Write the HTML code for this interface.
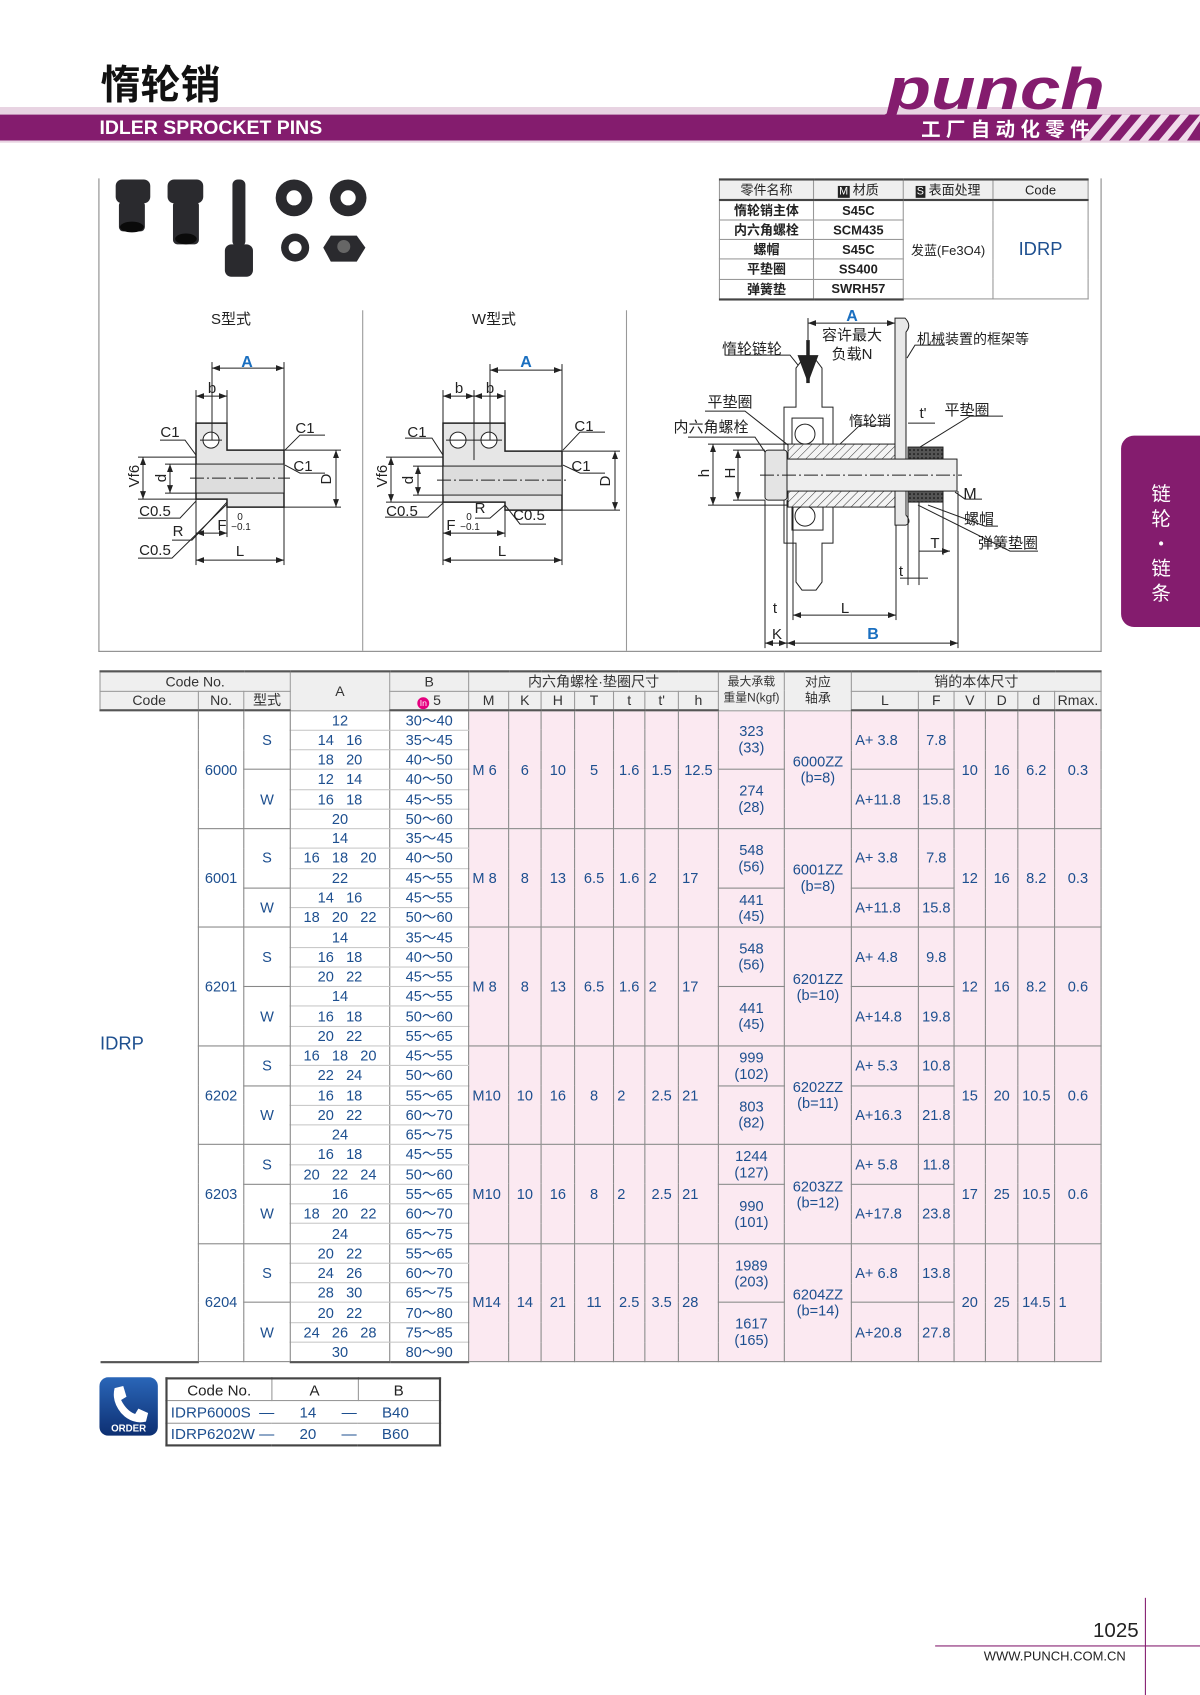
<!DOCTYPE html>
<html><head><meta charset="utf-8">
<style>
*{margin:0;padding:0;box-sizing:border-box}
html,body{width:1200px;height:1695px;background:#fff;overflow:hidden}
#w{position:absolute;left:0;top:0;width:1110px;height:1568px;transform:scale(1.081081);transform-origin:0 0;font-family:"Liberation Sans","Noto Sans CJK SC",sans-serif;color:#222}
.a{position:absolute}
table{border-collapse:collapse;table-layout:fixed}
#t{position:absolute;left:92px;top:620px;width:926px;font-family:"Liberation Sans Narrow","Liberation Sans","Noto Sans CJK SC",sans-serif;font-size:13.5px}
#t td{padding:0;text-align:center;line-height:15px;white-space:pre;overflow:hidden}
#t thead td{background:#efefef;border:1px solid #999;color:#333;height:18px;font-size:13px}
#t thead tr:first-child td{border-top:2px solid #555}
#t thead tr:last-child td{border-bottom:2px solid #555}
#t tbody tr{height:18.27px}
#t tbody td{color:#1d4f8f;border:1px solid #888;background:#fbe9f1}
#t tbody td.w{background:#fff}
#t tbody td.ab{background:#fff;border-top:1px solid #c8c8c8;border-bottom:1px solid #c8c8c8}
#t tbody td.g{border-top:1px solid #666}
#t tbody td.c{background:#fff;border-left:none;border-top:none;border-bottom:2px solid #555;text-align:left;font-size:17px;font-family:"Liberation Sans",sans-serif;padding-top:14px}
#t tbody tr:last-child td{border-bottom:2px solid #555}
#t td.l{text-align:left;padding-left:3px}
#m{position:absolute;left:665px;top:165px;width:341px;font-size:12px}
#m td{border:1px solid #999;height:18.2px;text-align:center;padding:0;font-weight:bold;color:#222}
#m tr:first-child td{border-top:2px solid #444;background:#efefef;font-weight:normal}
#m tr:nth-child(2) td{border-top:2px solid #444}
#m tr:last-child td{border-bottom:2px solid #444}
#o{position:absolute;left:153px;top:1274px;width:253px;font-size:14px}
#o td{border:1px solid #999;height:20.5px;padding:0;color:#1d4f8f}
#o{border:2px solid #444}
</style></head><body><div id="w">

<!-- header -->
<div class="a" style="left:93px;top:52px;font-size:37px;font-weight:bold;color:#111;font-family:'Noto Sans CJK SC',sans-serif;line-height:46px">惰轮销</div>
<div class="a" style="left:0;top:99px;width:1110px;height:7px;background:#e8d3e2"></div>
<div class="a" style="left:0;top:106px;width:1110px;height:24px;background:#841c6e"></div>
<div class="a" style="left:0;top:130px;width:1110px;height:2px;background:#e8d3e2"></div>
<div class="a" style="left:92px;top:107px;font-size:18px;font-weight:bold;color:#fff;line-height:22px">IDLER SPROCKET PINS</div>
<svg class="a" style="left:0;top:0" width="1110" height="140">
<g fill="#f0dceb"><polygon points="1000,130 1020,106 1028,106 1008,130"/><polygon points="1018,130 1038,106 1046,106 1026,130"/><polygon points="1036,130 1056,106 1064,106 1044,130"/><polygon points="1054,130 1074,106 1082,106 1062,130"/><polygon points="1072,130 1092,106 1100,106 1080,130"/><polygon points="1090,130 1110,106 1110,112 1098,130"/></g>
<polygon points="822,104 832,78 838,78 828,110 812,112 808,112" fill="#841c6e"/>
<text x="820" y="101" font-family="Liberation Sans" font-weight="bold" font-style="italic" font-size="54" fill="#841c6e" textLength="202" lengthAdjust="spacingAndGlyphs">punch</text>
<text x="852" y="126" font-family="Noto Sans CJK SC" font-weight="bold" font-size="18" fill="#fff" letter-spacing="5">工厂自动化零件</text>
</svg>

<!-- frame lines -->
<div class="a" style="left:91px;top:165px;width:1px;height:438px;background:#888"></div>
<div class="a" style="left:1018px;top:165px;width:1px;height:438px;background:#888"></div>
<div class="a" style="left:91px;top:602px;width:928px;height:1px;background:#888"></div>
<div class="a" style="left:335px;top:287px;width:1px;height:315px;background:#999"></div>
<div class="a" style="left:579px;top:287px;width:1px;height:315px;background:#999"></div>

<!-- photos -->
<svg class="a" style="left:0;top:160px" width="360" height="110">
<g fill="#2a2a2e">
<rect x="107" y="6" width="32" height="22" rx="6"/><rect x="110" y="26" width="24" height="28" rx="4"/>
<ellipse cx="122" cy="50" rx="11" ry="5" fill="#0a0a0a"/>
<rect x="155" y="6" width="33" height="22" rx="6"/><rect x="160" y="26" width="24" height="40" rx="4"/>
<ellipse cx="172" cy="61" rx="10" ry="5" fill="#0a0a0a"/>
<rect x="215" y="6" width="12" height="62" rx="5"/><rect x="208" y="66" width="26" height="30" rx="6"/>
<circle cx="272" cy="23" r="17"/><circle cx="322" cy="23" r="17"/>
<circle cx="273" cy="69" r="13"/><polygon points="306,58 330,58 338,69 330,82 306,82 299,69"/>
</g>
<g fill="#fff"><circle cx="272" cy="23" r="7"/><circle cx="322" cy="23" r="7"/><circle cx="273" cy="69" r="6"/></g>
<circle cx="318" cy="68" r="6" fill="#666"/>
</svg>

<!-- material table -->
<table id="m"><colgroup><col style="width:87px"><col style="width:83px"><col style="width:83px"><col style="width:88px"></colgroup>
<tr><td>零件名称</td><td><span style="background:#222;color:#fff;font-size:10px;padding:0 1px">M</span> 材质</td><td><span style="background:#222;color:#fff;font-size:10px;padding:0 1px">S</span> 表面处理</td><td>Code</td></tr>
<tr><td>惰轮销主体</td><td>S45C</td><td rowspan="5" style="font-weight:normal">发蓝(Fe3O4)</td><td rowspan="5" style="font-weight:normal;color:#1d4f8f;font-size:17px">IDRP</td></tr>
<tr><td>内六角螺栓</td><td>SCM435</td></tr>
<tr><td>螺帽</td><td>S45C</td></tr>
<tr><td>平垫圈</td><td>SS400</td></tr>
<tr><td>弹簧垫</td><td>SWRH57</td></tr>
</table>

<!-- drawings in 1200 coords -->
<svg class="a" style="left:0;top:0" width="1110" height="1568" viewBox="0 0 1200 1695" font-family="Liberation Sans, Noto Sans CJK SC, sans-serif" font-size="15" fill="#222">
<defs>
<marker id="ar" markerWidth="8" markerHeight="6" refX="8" refY="3" orient="auto-start-reverse"><path d="M0,0 L8,3 L0,6z" fill="#222"/></marker>
<pattern id="h" width="6" height="6" patternUnits="userSpaceOnUse" patternTransform="rotate(45)"><rect width="6" height="6" fill="#f4f4f4"/><line x1="0" y1="0" x2="0" y2="6" stroke="#333" stroke-width="1"/></pattern>
<pattern id="k" width="4" height="4" patternUnits="userSpaceOnUse"><rect width="4" height="4" fill="#555"/><circle cx="2" cy="2" r="1" fill="#222"/></pattern>
</defs>
<g stroke="#222" stroke-width="1" fill="none">
<path d="M196,423 H227 V450 H284 V507 H227 V499 H196 Z" fill="#e6e6e6" stroke-width="1.5"/>
<rect x="196" y="464" width="88" height="29" fill="#ddd"/>
<circle cx="211" cy="440" r="8" fill="#fff"/><line x1="200" y1="440" x2="222" y2="440"/>
<line x1="190" y1="478" x2="290" y2="478" stroke-dasharray="14,3,2,3"/>
<line x1="212" y1="368" x2="284" y2="368" marker-start="url(#ar)" marker-end="url(#ar)"/>
<line x1="212" y1="362" x2="212" y2="440"/><line x1="284" y1="362" x2="284" y2="450"/>
<line x1="196" y1="396" x2="227" y2="396" marker-start="url(#ar)" marker-end="url(#ar)"/>
<line x1="196" y1="390" x2="196" y2="423"/><line x1="227" y1="390" x2="227" y2="423"/>
<line x1="143" y1="457" x2="143" y2="499" marker-start="url(#ar)" marker-end="url(#ar)"/>
<line x1="138" y1="457" x2="196" y2="457"/><line x1="138" y1="499" x2="196" y2="499"/>
<line x1="170" y1="464" x2="170" y2="493" marker-start="url(#ar)" marker-end="url(#ar)"/>
<line x1="165" y1="464" x2="196" y2="464"/><line x1="165" y1="493" x2="196" y2="493"/>
<line x1="336" y1="450" x2="336" y2="507" marker-start="url(#ar)" marker-end="url(#ar)"/>
<line x1="284" y1="450" x2="341" y2="450"/><line x1="284" y1="507" x2="341" y2="507"/>
<line x1="196" y1="560" x2="284" y2="560" marker-start="url(#ar)" marker-end="url(#ar)"/>
<line x1="196" y1="499" x2="196" y2="565"/><line x1="284" y1="507" x2="284" y2="565"/>
<line x1="196" y1="533" x2="227" y2="533" marker-start="url(#ar)" marker-end="url(#ar)"/>
<line x1="227" y1="499" x2="227" y2="537"/>
<polyline points="160,440 185,440 196,455"/><polyline points="325,435 300,435 285,450"/><polyline points="325,473 300,473 285,465"/>
<polyline points="138,518 180,518 196,501"/><polyline points="172,540 192,540 227,502"/><polyline points="138,558 172,558 227,504"/>
<path d="M443,423 H505 V451 H562 V510 H505 V502 H443 Z" fill="#e6e6e6" stroke-width="1.5"/>
<rect x="443" y="466" width="119" height="29" fill="#ddd"/>
<line x1="474" y1="423" x2="474" y2="460"/>
<circle cx="458" cy="440" r="8" fill="#fff"/><circle cx="489" cy="440" r="8" fill="#fff"/>
<line x1="446" y1="440" x2="502" y2="440"/>
<line x1="437" y1="480" x2="568" y2="480" stroke-dasharray="14,3,2,3"/>
<line x1="490" y1="370" x2="562" y2="370" marker-start="url(#ar)" marker-end="url(#ar)"/>
<line x1="490" y1="364" x2="490" y2="440"/><line x1="562" y1="364" x2="562" y2="451"/>
<line x1="443" y1="396" x2="474" y2="396" marker-start="url(#ar)" marker-end="url(#ar)"/>
<line x1="474" y1="396" x2="505" y2="396" marker-start="url(#ar)" marker-end="url(#ar)"/>
<line x1="443" y1="390" x2="443" y2="423"/><line x1="474" y1="390" x2="474" y2="423"/><line x1="505" y1="390" x2="505" y2="423"/>
<line x1="391" y1="457" x2="391" y2="502" marker-start="url(#ar)" marker-end="url(#ar)"/>
<line x1="386" y1="457" x2="443" y2="457"/><line x1="386" y1="502" x2="443" y2="502"/>
<line x1="418" y1="466" x2="418" y2="495" marker-start="url(#ar)" marker-end="url(#ar)"/>
<line x1="413" y1="466" x2="443" y2="466"/><line x1="413" y1="495" x2="443" y2="495"/>
<line x1="615" y1="451" x2="615" y2="510" marker-start="url(#ar)" marker-end="url(#ar)"/>
<line x1="562" y1="451" x2="620" y2="451"/><line x1="562" y1="510" x2="620" y2="510"/>
<line x1="443" y1="560" x2="562" y2="560" marker-start="url(#ar)" marker-end="url(#ar)"/>
<line x1="443" y1="502" x2="443" y2="565"/><line x1="562" y1="510" x2="562" y2="565"/>
<line x1="443" y1="533" x2="505" y2="533" marker-start="url(#ar)" marker-end="url(#ar)"/>
<line x1="505" y1="502" x2="505" y2="537"/>
<polyline points="405,438 432,438 443,455"/><polyline points="605,432 580,432 563,450"/><polyline points="605,473 580,473 563,465"/>
<polyline points="385,517 428,517 443,503"/><polyline points="475,518 490,518 505,505"/><polyline points="546,524 520,524 505,505"/>
<path d="M895,318 H905 Q912,325 906,332 V515 Q912,522 906,525 H895 Z" fill="#e8e8e8"/>
<path d="M796,407 V368 L802,360 H816 L822,368 V407 H833 V543 H822 V582 L816,590 H802 L796,582 V543 H784 V407 Z" fill="#fff"/>
<rect x="792" y="418" width="31" height="30" fill="#fff"/><circle cx="805" cy="434" r="10"/>
<rect x="792" y="500" width="31" height="30" fill="#fff"/><circle cx="805" cy="516" r="10"/>
<rect x="788" y="444" width="107" height="63" fill="url(#h)"/>
<rect x="908" y="447" width="35" height="55" fill="url(#k)"/>
<rect x="787" y="459" width="170" height="32" fill="#eee"/>
<rect x="765" y="450" width="22" height="50" rx="3" fill="#e4e4e4"/>
<line x1="760" y1="475" x2="962" y2="475" stroke-dasharray="14,3,2,3"/>
<line x1="808" y1="340" x2="808" y2="383" stroke-width="3.5" marker-end="url(#ar)"/>
<line x1="808" y1="323" x2="895" y2="323" marker-start="url(#ar)" marker-end="url(#ar)"/>
<line x1="808" y1="318" x2="808" y2="340"/>
<line x1="713" y1="444" x2="713" y2="505" marker-start="url(#ar)" marker-end="url(#ar)"/>
<line x1="708" y1="444" x2="788" y2="444"/><line x1="708" y1="505" x2="788" y2="505"/>
<line x1="738" y1="450" x2="738" y2="500" marker-start="url(#ar)" marker-end="url(#ar)"/>
<line x1="733" y1="450" x2="765" y2="450"/><line x1="733" y1="500" x2="765" y2="500"/>
<line x1="765" y1="500" x2="765" y2="648"/><line x1="787" y1="500" x2="787" y2="648"/><line x1="793" y1="507" x2="793" y2="620"/><line x1="896" y1="525" x2="896" y2="620"/><line x1="958" y1="491" x2="958" y2="648"/>
<line x1="793" y1="615" x2="896" y2="615" marker-start="url(#ar)" marker-end="url(#ar)"/>
<line x1="787" y1="643" x2="958" y2="643" marker-start="url(#ar)" marker-end="url(#ar)"/>
<line x1="765" y1="643" x2="787" y2="643" marker-start="url(#ar)" marker-end="url(#ar)"/>
<line x1="908" y1="502" x2="908" y2="585"/><line x1="919" y1="502" x2="919" y2="585"/><line x1="943" y1="502" x2="943" y2="555"/>
<line x1="919" y1="551" x2="950" y2="551" marker-end="url(#ar)"/><line x1="900" y1="578" x2="928" y2="578"/>
<line x1="908" y1="423" x2="935" y2="423"/>
<polyline points="725,355 790,355 798,365"/><polyline points="945,345 915,345 907,358"/>
<polyline points="705,411 745,411 788,445"/><polyline points="688,437 755,437 765,452"/>
<polyline points="890,425 860,425 840,444"/><polyline points="1003,416 970,416 920,447"/>
<polyline points="982,499 965,499 955,492"/><polyline points="998,526 985,526 928,505"/><polyline points="1038,551 1010,551 918,505"/>
</g>
<g text-anchor="middle">
<text x="231" y="324">S型式</text><text x="494" y="324">W型式</text>
<text x="247" y="367" fill="#1a6fc0" font-weight="bold" font-size="16">A</text>
<text x="526" y="367" fill="#1a6fc0" font-weight="bold" font-size="16">A</text>
<text x="212" y="393">b</text><text x="459" y="393">b</text><text x="490" y="393">b</text>
<text x="170" y="437">C1</text><text x="305" y="433">C1</text><text x="303" y="471">C1</text>
<text x="417" y="437">C1</text><text x="584" y="431">C1</text><text x="581" y="471">C1</text>
<text x="155" y="516">C0.5</text><text x="178" y="536">R</text><text x="155" y="555">C0.5</text>
<text x="402" y="516">C0.5</text><text x="480" y="513">R</text><text x="529" y="520">C0.5</text>
<text x="222" y="530">F</text><text x="240" y="520" font-size="10">0</text><text x="241" y="530" font-size="10">−0.1</text>
<text x="451" y="530">F</text><text x="469" y="520" font-size="10">0</text><text x="470" y="530" font-size="10">−0.1</text>
<text x="240" y="556">L</text><text x="502" y="556">L</text>
<text transform="translate(139,476) rotate(-90)">Vf6</text><text transform="translate(166,478) rotate(-90)">d</text><text transform="translate(331,479) rotate(-90)">D</text>
<text transform="translate(387,476) rotate(-90)">Vf6</text><text transform="translate(413,480) rotate(-90)">d</text><text transform="translate(610,481) rotate(-90)">D</text>
<text x="852" y="321" fill="#1a6fc0" font-weight="bold" font-size="16">A</text>
<text x="852" y="340">容许最大</text><text x="852" y="359">负载N</text>
<text x="752" y="354">惰轮链轮</text><text x="973" y="344" font-size="14">机械装置的框架等</text>
<text x="730" y="407">平垫圈</text><text x="711" y="432">内六角螺栓</text><text x="870" y="426" font-size="14">惰轮销</text>
<text x="923" y="418">t'</text><text x="967" y="415">平垫圈</text>
<text x="970" y="499" font-size="16">M</text><text x="979" y="524">螺帽</text><text x="1008" y="548">弹簧垫圈</text>
<text x="935" y="548">T</text><text x="901" y="576">t</text><text x="775" y="613">t</text><text x="845" y="613">L</text>
<text x="777" y="639">K</text><text x="873" y="639" fill="#1a6fc0" font-weight="bold" font-size="16">B</text>
<text transform="translate(709,473) rotate(-90)">h</text><text transform="translate(735,473) rotate(-90)">H</text>
</g>
</svg>

<!-- main table -->
<table id="t">
<colgroup><col style="width:91px"><col style="width:42px"><col style="width:43px"><col style="width:92px"><col style="width:73px"><col style="width:37px"><col style="width:30px"><col style="width:31px"><col style="width:36px"><col style="width:29px"><col style="width:31px"><col style="width:37px"><col style="width:61px"><col style="width:62px"><col style="width:62px"><col style="width:33px"><col style="width:29px"><col style="width:30px"><col style="width:34px"><col style="width:43px"></colgroup>
<thead>
<tr><td colspan="3">Code No.</td><td rowspan="2">A</td><td>B</td><td colspan="7">内六角螺栓·垫圈尺寸</td><td rowspan="2" style="font-size:11px;line-height:15px">最大承载
重量N(kgf)</td><td rowspan="2" style="font-size:12px;line-height:15px">对应
轴承</td><td colspan="6">销的本体尺寸</td></tr>
<tr><td>Code</td><td>No.</td><td>型式</td><td><span style="display:inline-block;width:11px;height:11px;border-radius:6px;background:#e5007f;color:#fff;font-size:8px;line-height:11px;vertical-align:-1px">In</span> 5</td><td>M</td><td>K</td><td>H</td><td>T</td><td>t</td><td>t'</td><td>h</td><td>L</td><td>F</td><td>V</td><td>D</td><td>d</td><td>Rmax.</td></tr>
</thead>
<tbody>
<tr><td rowspan="33" class="c">IDRP</td><td rowspan="6" class="w">6000</td><td rowspan="3" class="w">S</td><td class="ab">12</td><td class="ab">30～40</td><td rowspan="6" class="l">M 6</td><td rowspan="6">6</td><td rowspan="6">10</td><td rowspan="6">5</td><td rowspan="6">1.6</td><td rowspan="6">1.5</td><td rowspan="6">12.5</td><td rowspan="3">323
(33)</td><td rowspan="6">6000ZZ
(b=8)</td><td rowspan="3" class="l">A+ 3.8</td><td rowspan="3">7.8</td><td rowspan="6">10</td><td rowspan="6">16</td><td rowspan="6">6.2</td><td rowspan="6">0.3</td></tr>
<tr><td class="ab">14   16</td><td class="ab">35～45</td></tr>
<tr><td class="ab">18   20</td><td class="ab">40～50</td></tr>
<tr><td rowspan="3" class="w">W</td><td class="ab">12   14</td><td class="ab">40～50</td><td rowspan="3">274
(28)</td><td rowspan="3" class="l">A+11.8</td><td rowspan="3">15.8</td></tr>
<tr><td class="ab">16   18</td><td class="ab">45～55</td></tr>
<tr><td class="ab">20</td><td class="ab">50～60</td></tr>
<tr><td rowspan="5" class="w g">6001</td><td rowspan="3" class="w g">S</td><td class="ab g">14</td><td class="ab g">35～45</td><td rowspan="5" class="l g">M 8</td><td rowspan="5" class="g">8</td><td rowspan="5" class="g">13</td><td rowspan="5" class="g">6.5</td><td rowspan="5" class="g">1.6</td><td rowspan="5" class="l g">2</td><td rowspan="5" class="l g">17</td><td rowspan="3" class="g">548
(56)</td><td rowspan="5" class="g">6001ZZ
(b=8)</td><td rowspan="3" class="l g">A+ 3.8</td><td rowspan="3" class="g">7.8</td><td rowspan="5" class="g">12</td><td rowspan="5" class="g">16</td><td rowspan="5" class="g">8.2</td><td rowspan="5" class="g">0.3</td></tr>
<tr><td class="ab">16   18   20</td><td class="ab">40～50</td></tr>
<tr><td class="ab">22</td><td class="ab">45～55</td></tr>
<tr><td rowspan="2" class="w">W</td><td class="ab">14   16</td><td class="ab">45～55</td><td rowspan="2">441
(45)</td><td rowspan="2" class="l">A+11.8</td><td rowspan="2">15.8</td></tr>
<tr><td class="ab">18   20   22</td><td class="ab">50～60</td></tr>
<tr><td rowspan="6" class="w g">6201</td><td rowspan="3" class="w g">S</td><td class="ab g">14</td><td class="ab g">35～45</td><td rowspan="6" class="l g">M 8</td><td rowspan="6" class="g">8</td><td rowspan="6" class="g">13</td><td rowspan="6" class="g">6.5</td><td rowspan="6" class="g">1.6</td><td rowspan="6" class="l g">2</td><td rowspan="6" class="l g">17</td><td rowspan="3" class="g">548
(56)</td><td rowspan="6" class="g">6201ZZ
(b=10)</td><td rowspan="3" class="l g">A+ 4.8</td><td rowspan="3" class="g">9.8</td><td rowspan="6" class="g">12</td><td rowspan="6" class="g">16</td><td rowspan="6" class="g">8.2</td><td rowspan="6" class="g">0.6</td></tr>
<tr><td class="ab">16   18</td><td class="ab">40～50</td></tr>
<tr><td class="ab">20   22</td><td class="ab">45～55</td></tr>
<tr><td rowspan="3" class="w">W</td><td class="ab">14</td><td class="ab">45～55</td><td rowspan="3">441
(45)</td><td rowspan="3" class="l">A+14.8</td><td rowspan="3">19.8</td></tr>
<tr><td class="ab">16   18</td><td class="ab">50～60</td></tr>
<tr><td class="ab">20   22</td><td class="ab">55～65</td></tr>
<tr><td rowspan="5" class="w g">6202</td><td rowspan="2" class="w g">S</td><td class="ab g">16   18   20</td><td class="ab g">45～55</td><td rowspan="5" class="l g">M10</td><td rowspan="5" class="g">10</td><td rowspan="5" class="g">16</td><td rowspan="5" class="g">8</td><td rowspan="5" class="l g">2</td><td rowspan="5" class="g">2.5</td><td rowspan="5" class="l g">21</td><td rowspan="2" class="g">999
(102)</td><td rowspan="5" class="g">6202ZZ
(b=11)</td><td rowspan="2" class="l g">A+ 5.3</td><td rowspan="2" class="g">10.8</td><td rowspan="5" class="g">15</td><td rowspan="5" class="g">20</td><td rowspan="5" class="g">10.5</td><td rowspan="5" class="g">0.6</td></tr>
<tr><td class="ab">22   24</td><td class="ab">50～60</td></tr>
<tr><td rowspan="3" class="w">W</td><td class="ab">16   18</td><td class="ab">55～65</td><td rowspan="3">803
(82)</td><td rowspan="3" class="l">A+16.3</td><td rowspan="3">21.8</td></tr>
<tr><td class="ab">20   22</td><td class="ab">60～70</td></tr>
<tr><td class="ab">24</td><td class="ab">65～75</td></tr>
<tr><td rowspan="5" class="w g">6203</td><td rowspan="2" class="w g">S</td><td class="ab g">16   18</td><td class="ab g">45～55</td><td rowspan="5" class="l g">M10</td><td rowspan="5" class="g">10</td><td rowspan="5" class="g">16</td><td rowspan="5" class="g">8</td><td rowspan="5" class="l g">2</td><td rowspan="5" class="g">2.5</td><td rowspan="5" class="l g">21</td><td rowspan="2" class="g">1244
(127)</td><td rowspan="5" class="g">6203ZZ
(b=12)</td><td rowspan="2" class="l g">A+ 5.8</td><td rowspan="2" class="g">11.8</td><td rowspan="5" class="g">17</td><td rowspan="5" class="g">25</td><td rowspan="5" class="g">10.5</td><td rowspan="5" class="g">0.6</td></tr>
<tr><td class="ab">20   22   24</td><td class="ab">50～60</td></tr>
<tr><td rowspan="3" class="w">W</td><td class="ab">16</td><td class="ab">55～65</td><td rowspan="3">990
(101)</td><td rowspan="3" class="l">A+17.8</td><td rowspan="3">23.8</td></tr>
<tr><td class="ab">18   20   22</td><td class="ab">60～70</td></tr>
<tr><td class="ab">24</td><td class="ab">65～75</td></tr>
<tr><td rowspan="6" class="w g">6204</td><td rowspan="3" class="w g">S</td><td class="ab g">20   22</td><td class="ab g">55～65</td><td rowspan="6" class="l g">M14</td><td rowspan="6" class="g">14</td><td rowspan="6" class="g">21</td><td rowspan="6" class="g">11</td><td rowspan="6" class="g">2.5</td><td rowspan="6" class="g">3.5</td><td rowspan="6" class="l g">28</td><td rowspan="3" class="g">1989
(203)</td><td rowspan="6" class="g">6204ZZ
(b=14)</td><td rowspan="3" class="l g">A+ 6.8</td><td rowspan="3" class="g">13.8</td><td rowspan="6" class="g">20</td><td rowspan="6" class="g">25</td><td rowspan="6" class="g">14.5</td><td rowspan="6" class="l g">1</td></tr>
<tr><td class="ab">24   26</td><td class="ab">60～70</td></tr>
<tr><td class="ab">28   30</td><td class="ab">65～75</td></tr>
<tr><td rowspan="3" class="w">W</td><td class="ab">20   22</td><td class="ab">70～80</td><td rowspan="3">1617
(165)</td><td rowspan="3" class="l">A+20.8</td><td rowspan="3">27.8</td></tr>
<tr><td class="ab">24   26   28</td><td class="ab">75～85</td></tr>
<tr><td class="ab">30</td><td class="ab">80～90</td></tr>
</tbody></table>

<!-- order -->
<div class="a" style="left:92px;top:1274px;width:54px;height:54px;border-radius:8px;background:linear-gradient(#2a66b8,#0d2f72)"></div>
<svg class="a" style="left:92px;top:1274px" width="54" height="54">
<path d="M14,10 L22,8 L25,18 L20,21 Q25,31 33,34 L36,29 L45,33 L43,41 Q30,44 20,33 Q11,22 14,10Z" fill="#fff"/>
<text x="27" y="50" text-anchor="middle" font-family="Liberation Sans" font-weight="bold" font-size="9" fill="#fff">ORDER</text>
</svg>
<table id="o"><colgroup><col style="width:97px"><col style="width:80px"><col style="width:76px"></colgroup>
<tr><td style="text-align:center;color:#222">Code No.</td><td style="text-align:center;color:#222">A</td><td style="text-align:center;color:#222">B</td></tr>
<tr><td colspan="3" style="white-space:pre;padding-left:3px">IDRP6000S  —      14      —      B40</td></tr>
<tr><td colspan="3" style="white-space:pre;padding-left:3px">IDRP6202W —      20      —      B60</td></tr>
</table>

<!-- side tab -->
<div class="a" style="left:1037px;top:403px;width:73px;height:177px;background:#841c6e;border-radius:12px 0 0 12px"></div>
<div class="a" style="left:1062px;top:445px;width:24px;color:#fff;font-size:18px;line-height:23px;text-align:center;font-family:'Noto Sans CJK SC',sans-serif">链<br>轮<br>·<br>链<br>条</div>

<!-- footer -->
<div class="a" style="left:1011px;top:1498px;font-size:19px;color:#222">1025</div>
<div class="a" style="left:1059px;top:1478px;width:1px;height:90px;background:#841c6e"></div>
<div class="a" style="left:865px;top:1522px;width:245px;height:1px;background:#841c6e"></div>
<div class="a" style="left:910px;top:1525px;font-size:12px;color:#222">WWW.PUNCH.COM.CN</div>
</div></body></html>
